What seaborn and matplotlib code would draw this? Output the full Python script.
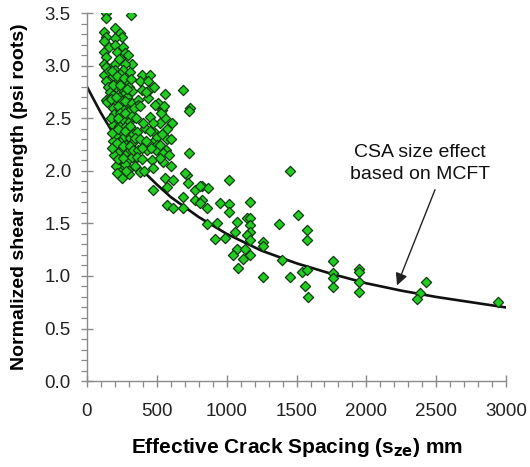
import matplotlib
matplotlib.use("Agg")
import matplotlib.pyplot as plt
import seaborn as sns
import pandas as pd
from matplotlib.ticker import MultipleLocator

# ---- data ----
spacing = [
    136, 136, 120, 136, 125, 122, 136, 125, 136, 125, 140, 150, 136, 143, 160, 160, 165,
    200, 236, 250, 200, 200, 258, 215, 272, 294, 322, 272, 200, 230, 313,
    200, 258, 308, 222, 280, 190, 240, 300, 210, 250, 270, 190, 230, 290, 320,
    200, 250, 300, 185, 220, 265, 310, 195, 240, 285, 210, 255, 300, 190, 230, 270, 320,
    200, 245, 290, 215, 260, 308, 190, 235, 280, 325, 205, 250, 300, 225, 270, 195,
    294, 236, 250, 236, 236, 294, 250, 300, 210, 270,
    180, 215, 265, 315, 185, 235, 285, 175, 210, 270, 325, 175, 225, 275, 320,
    180, 225, 270, 310, 180, 215, 260, 310, 220, 260, 320, 280, 215, 330, 330,
    365, 437, 508, 394, 451, 380, 437, 394, 444, 558, 365, 487, 537, 451, 560, 570, 575,
    565, 415, 358, 487, 487, 500, 505, 344, 365, 430, 494, 544, 358, 394, 465, 544, 344,
    380, 472, 558, 615, 573, 472, 573, 615, 350, 340, 400, 520, 530, 380, 420, 460, 520,
    600, 590, 610, 410,
    380, 470, 555, 420, 480, 520, 450, 395, 540, 600,
    690, 737, 730, 730, 716, 701, 723, 823, 866, 773, 687, 773, 823, 687, 809,
    952, 1016, 1016, 859, 809, 859, 930, 916, 988, 1016,
    1453, 1167, 1510, 1145, 1167, 1074, 1374, 1167, 1575, 1575, 1060, 1167, 1145, 1167,
    1260, 1260, 1074, 1131, 1045, 1167, 1117, 1396, 1081, 1539, 1575, 1260, 1453, 1560, 1580,
    1761, 1761, 1761, 1761, 1947, 1947, 1947, 1947, 2427, 2384, 2362, 2942,
]
strength = [
    3.50, 3.45, 3.32, 3.27, 3.23, 3.13, 3.08, 3.02, 2.99, 2.91, 2.85, 2.80, 2.67, 2.65, 3.18, 2.95, 2.75,
    3.36, 3.31, 3.27, 3.26, 3.20, 3.18, 3.13, 3.12, 3.10, 3.02, 3.02, 3.02, 3.06, 3.48,
    2.96, 2.96, 2.94, 2.86, 2.86, 2.90, 2.92, 2.80, 2.80, 2.78, 2.74, 2.72, 2.70, 2.70, 2.76,
    2.66, 2.66, 2.64, 2.60, 2.62, 2.58, 2.58, 2.54, 2.55, 2.52, 2.48, 2.48, 2.46, 2.44, 2.43, 2.42, 2.40,
    2.38, 2.37, 2.36, 2.32, 2.31, 2.31, 2.28, 2.27, 2.25, 2.26, 2.22, 2.21, 2.19, 2.17, 2.15, 2.15,
    2.10, 2.08, 2.04, 2.03, 1.99, 2.01, 1.93, 1.97, 2.05, 2.06,
    2.95, 2.90, 2.88, 2.87, 2.82, 2.82, 2.78, 2.68, 2.70, 2.66, 2.64, 2.50, 2.50, 2.55, 2.52,
    2.36, 2.40, 2.38, 2.43, 2.22, 2.26, 2.24, 2.24, 2.11, 2.12, 2.13, 2.00, 1.98, 2.20, 2.35,
    2.67, 2.69, 2.64, 2.91, 2.91, 2.85, 2.85, 2.77, 2.77, 2.73, 2.63, 2.63, 2.58, 2.51, 2.50, 2.40, 2.30,
    2.20, 2.41, 2.37, 2.36, 2.29, 2.32, 2.25, 2.31, 2.20, 2.20, 2.20, 2.17, 2.13, 2.11, 2.10, 2.08, 2.05,
    1.99, 2.03, 1.93, 1.91, 1.85, 1.82, 1.67, 1.65, 2.50, 2.60, 2.45, 2.45, 2.55, 2.30, 2.28, 2.22, 2.12,
    2.30, 2.15, 2.45, 2.00,
    2.62, 2.45, 2.62, 2.75, 2.80, 2.25, 2.38, 2.22, 2.35, 2.05,
    2.77, 2.60, 2.57, 2.17, 1.96, 1.98, 1.88, 1.86, 1.84, 1.82, 1.75, 1.72, 1.72, 1.65, 1.86,
    1.69, 1.68, 1.61, 1.65, 1.69, 1.49, 1.50, 1.35, 1.36, 1.91,
    2.00, 1.70, 1.58, 1.55, 1.55, 1.51, 1.49, 1.48, 1.44, 1.34, 1.42, 1.42, 1.39, 1.34,
    1.32, 1.28, 1.26, 1.26, 1.20, 1.20, 1.16, 1.15, 1.08, 1.04, 1.06, 0.99, 0.99, 0.90, 0.80,
    1.14, 1.03, 0.98, 0.89, 1.07, 1.04, 0.94, 0.85, 0.94, 0.84, 0.78, 0.75,
]
curve_x = [0, 100, 200, 300, 400, 500, 600, 800, 1000, 1250, 1500, 1750, 2000, 2250, 2500, 2750, 3000]
curve_y = [2.80, 2.55, 2.33, 2.15, 2.00, 1.87, 1.75, 1.56, 1.40, 1.24, 1.12, 1.02, 0.93, 0.86, 0.80, 0.75, 0.70]

x_ticks = [0, 500, 1000, 1500, 2000, 2500, 3000]
y_ticks = [0.0, 0.5, 1.0, 1.5, 2.0, 2.5, 3.0, 3.5]

pts = pd.DataFrame({"sze": spacing, "v": strength})
crv = pd.DataFrame({"sze": curve_x, "v": curve_y})

plt.rcParams["font.family"] = ["Liberation Sans", "DejaVu Sans"]

fig = plt.figure(figsize=(5.30, 4.67), dpi=100)
ax = fig.add_axes([0.164, 0.184, 0.791, 0.788])

sns.lineplot(data=crv, x="sze", y="v", ax=ax, color="#111111", lw=1.9, zorder=2)
sns.scatterplot(data=pts, x="sze", y="v", ax=ax, marker="D", s=27,
                color="#22cc22", edgecolor="#0b3d0b", linewidth=0.9, zorder=3)

ax.set_xlim(0, 3000)
ax.set_ylim(0, 3.5)
ax.set_xticks(x_ticks)
ax.set_xticklabels([str(t) for t in x_ticks])
ax.set_yticks(y_ticks)
ax.set_yticklabels([f"{t:.1f}" for t in y_ticks])
ax.xaxis.set_minor_locator(MultipleLocator(100))
ax.yaxis.set_minor_locator(MultipleLocator(0.1))

for s in ["top", "right"]:
    ax.spines[s].set_visible(False)
for s in ["left", "bottom"]:
    ax.spines[s].set_color("#8a8a8a")
    ax.spines[s].set_linewidth(1.0)
ax.tick_params(which="major", direction="inout", length=9, width=1.0, color="#8a8a8a",
               labelsize=13.5, labelcolor="#222222")
ax.tick_params(which="minor", direction="out", length=4, width=0.9, color="#8a8a8a")
ax.tick_params(axis="y", which="major", pad=7)
ax.tick_params(axis="x", which="major", pad=11)

ax.set_xlabel("Effective Crack Spacing (s$_{\\mathbf{ze}}$) mm", fontsize=15,
              fontweight="bold", labelpad=12)
ax.set_ylabel("Normalized shear strength (psi roots)", fontsize=14,
              fontweight="bold", labelpad=12)

ax.text(2385, 2.07, "CSA size effect\nbased on MCFT", ha="center", va="center",
        fontsize=14, color="#111111", linespacing=1.4)
ax.annotate("", xy=(2219, 0.91), xytext=(2491, 1.82),
            arrowprops=dict(arrowstyle="-|>", color="#222222", lw=1.0,
                            mutation_scale=18, shrinkA=0, shrinkB=0))

fig.savefig("out.png", dpi=100)
